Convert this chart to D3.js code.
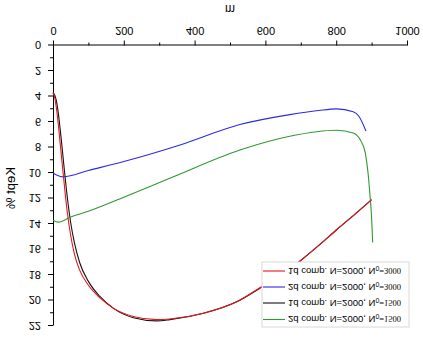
<!DOCTYPE html>
<html>
<head>
<meta charset="utf-8">
<script src="https://cdn.jsdelivr.net/npm/d3@7"></script>
<style>
  body { margin: 0; background: #fff; }
  svg { display: block; font-family: "Liberation Sans", Arial, sans-serif; }
</style>
</head>
<body>
<div id="chart"></div>
<script>
// m values and kept %
var redM     = [0, 5, 10, 15, 20, 25, 30, 40, 50, 60, 75, 100, 133, 170, 227, 293, 330, 425, 519, 590, 650, 698, 750, 801, 850, 900];
var redKept  = [3.7, 4.1, 5.0, 6.2, 7.6, 9.0, 10.4, 13.0, 14.9, 16.3, 17.6, 18.8, 19.8, 20.6, 21.25, 21.5, 21.45, 21.0, 20.1, 18.9, 17.9, 16.9, 15.7, 14.45, 13.3, 12.1];
var blackM    = [0, 5, 10, 15, 20, 25, 30, 40, 50, 60, 75, 100, 133, 170, 227, 293, 330, 425, 519, 590, 650, 698, 750, 801, 850, 900];
var blackKept = [3.7, 3.9, 4.4, 5.3, 6.5, 7.8, 9.2, 11.8, 13.9, 15.4, 17.0, 18.5, 19.7, 20.6, 21.35, 21.6, 21.5, 21.0, 20.1, 18.95, 17.95, 16.9, 15.7, 14.45, 13.3, 12.1];
var blueM    = [0, 10, 29, 100, 200, 359, 528, 669, 750, 801, 848, 864, 884];
var blueKept = [10.0, 10.15, 10.3, 9.8, 9.1, 7.8, 6.2, 5.42, 5.1, 4.97, 5.2, 5.55, 6.7];
var greenM    = [0, 15, 50, 100, 200, 340, 528, 669, 801, 848, 870, 882, 890, 895, 900, 903];
var greenKept = [13.7, 13.85, 13.45, 13.0, 11.9, 10.3, 8.2, 7.12, 6.65, 6.86, 7.5, 8.4, 10.0, 11.6, 13.5, 15.45];

var seriesNames  = ["1d comp. N=2000, N", "2d comp. N=2000, N", "1d comp. N=2000, N", "2d comp. N=2000, N"];
var seriesN0     = ["=3000", "=3000", "=1500", "=1500"];
var seriesColors = ["#e8141c", "#2b2be6", "#111111", "#2e9a2e"];

var xTicks = [0, 200, 400, 600, 800, 1000];
var yTicks = [0, 2, 4, 6, 8, 10, 12, 14, 16, 18, 20, 22];

var width = 423, height = 338;

var svg = d3.select("#chart").append("svg")
    .attr("width", width)
    .attr("height", height);

// the whole picture is mirrored top to bottom
var g = svg.append("g").attr("transform", "translate(0," + height + ") scale(1,-1)");

var x = d3.scaleLinear().domain([0, 1000]).range([53, 407]);
var y = d3.scaleLinear().domain([0, 22]).range([292.5, 12]);

// minor ticks
g.append("g")
    .attr("transform", "translate(0," + y(0) + ")")
    .call(d3.axisBottom(x).tickValues(d3.range(100, 1000, 200)).tickSize(3).tickFormat(""))
    .call(function(s) { s.select(".domain").remove(); });
g.append("g")
    .attr("transform", "translate(" + x(0) + ",0)")
    .call(d3.axisLeft(y).tickValues(d3.range(1, 22, 2)).tickSize(3).tickFormat(""))
    .call(function(s) { s.select(".domain").remove(); });

g.append("g")
    .attr("transform", "translate(0," + y(0) + ")")
    .call(d3.axisBottom(x).tickValues(xTicks).tickFormat(d3.format("d"))
        .tickSize(5).tickPadding(6).tickSizeOuter(0));
g.append("g")
    .attr("transform", "translate(" + x(0) + ",0)")
    .call(d3.axisLeft(y).tickValues(yTicks).tickFormat(d3.format("d"))
        .tickSize(5).tickPadding(7).tickSizeOuter(0));

g.selectAll(".tick text").attr("font-size", 11).attr("font-family", "Liberation Sans, Arial, sans-serif").attr("fill", "#000");
g.selectAll(".domain, .tick line").attr("stroke", "#000");

g.append("text")
    .attr("x", (x(0) + x(1000)) / 2)
    .attr("y", 333)
    .attr("text-anchor", "middle")
    .attr("font-size", 12)
    .text("m");

g.append("text")
    .attr("transform", "translate(15," + 150 + ") rotate(-90)")
    .attr("text-anchor", "middle")
    .attr("font-size", 13)
    .text("Kept %");

var line = d3.line()
    .x(function(d) { return x(d[0]); })
    .y(function(d) { return y(d[1]); })
    .curve(d3.curveMonotoneX);

var curves = [
    { m: blackM, k: blackKept, c: seriesColors[2] },
    { m: greenM, k: greenKept, c: seriesColors[3] },
    { m: blueM,  k: blueKept,  c: seriesColors[1] },
    { m: redM,   k: redKept,   c: seriesColors[0] }
];

g.append("g").selectAll("path")
    .data(curves)
    .enter().append("path")
    .attr("d", function(d) { return line(d.m.map(function(v, i) { return [v, d.k[i]]; })); })
    .attr("fill", "none")
    .attr("stroke", function(d) { return d.c; })
    .attr("stroke-width", 1.1);

// legend (rows drawn bottom-up in unflipped coordinates)
var legend = g.append("g");
legend.append("rect")
    .attr("x", 262).attr("y", 11)
    .attr("width", 147).attr("height", 65)
    .attr("fill", "#fff")
    .attr("stroke", "#d8d8d8");

var rowY = [67, 51, 35, 18.5];
var rows = legend.selectAll("g.row")
    .data(seriesNames)
    .enter().append("g")
    .attr("class", "row")
    .attr("transform", function(d, i) { return "translate(0," + rowY[i] + ")"; });

rows.append("line")
    .attr("x1", 263).attr("x2", 285)
    .attr("stroke", function(d, i) { return seriesColors[i]; })
    .attr("stroke-width", 1.1);

var t = rows.append("text")
    .attr("x", 288)
    .attr("y", 3.5)
    .attr("font-size", 9.5);
t.append("tspan").text(function(d) { return d; });
t.append("tspan").attr("font-size", 7).attr("dy", 2).text("0");
t.append("tspan").attr("font-size", 8.5).attr("dy", -2)
    .attr("font-family", "Liberation Serif, serif")
    .text(function(d, i) { return seriesN0[i]; });
</script>
</body>
</html>
